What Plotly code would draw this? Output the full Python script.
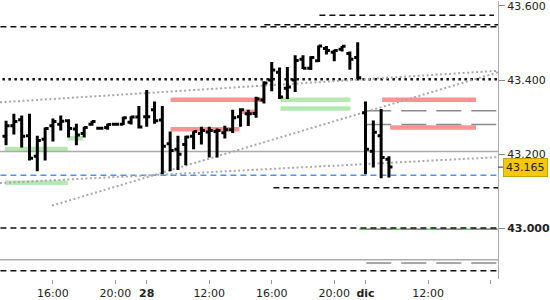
import pandas as pd
import plotly.graph_objects as go

# ---------------- data ----------------
times = (list(pd.date_range("2025-11-27 13:00", "2025-11-27 21:30", freq="30min")) +
         list(pd.date_range("2025-11-28 08:00", "2025-11-28 21:30", freq="30min")) +
         list(pd.date_range("2025-12-01 08:00", "2025-12-01 09:30", freq="30min")))

open_ = [43.248, 43.277, 43.293, 43.250, 43.194, 43.240, 43.277, 43.281, 43.290, 43.268, 43.256, 43.281, 43.270, 43.272, 43.281, 43.281, 43.286, 43.300,
         43.301, 43.320, 43.292, 43.228, 43.213, 43.226, 43.248, 43.256, 43.260, 43.261, 43.258, 43.266, 43.301, 43.309, 43.310, 43.346, 43.400, 43.421,
         43.378, 43.400, 43.456, 43.432, 43.452, 43.485, 43.475, 43.483, 43.472, 43.461,
         43.312, 43.208, 43.250, 43.186]
high = [43.290, 43.309, 43.304, 43.309, 43.250, 43.272, 43.296, 43.304, 43.294, 43.282, 43.274, 43.290, 43.274, 43.282, 43.283, 43.301, 43.302, 43.330,
        43.373, 43.342, 43.330, 43.261, 43.250, 43.250, 43.262, 43.274, 43.274, 43.269, 43.277, 43.320, 43.324, 43.320, 43.355, 43.397, 43.449, 43.434,
        43.435, 43.467, 43.467, 43.464, 43.493, 43.492, 43.482, 43.492, 43.477, 43.502,
        43.342, 43.291, 43.322, 43.194]
low = [43.224, 43.253, 43.218, 43.183, 43.154, 43.183, 43.234, 43.264, 43.245, 43.224, 43.245, 43.277, 43.268, 43.266, 43.278, 43.279, 43.280, 43.269,
       43.274, 43.282, 43.146, 43.154, 43.157, 43.170, 43.213, 43.226, 43.191, 43.191, 43.242, 43.257, 43.274, 43.276, 43.298, 43.337, 43.370, 43.349,
       43.349, 43.368, 43.430, 43.427, 43.449, 43.469, 43.451, 43.477, 43.428, 43.404,
       43.146, 43.164, 43.135, 43.137]
close = [43.277, 43.288, 43.248, 43.189, 43.237, 43.269, 43.288, 43.289, 43.269, 43.252, 43.272, 43.288, 43.270, 43.280, 43.281, 43.298, 43.300, 43.273,
         43.301, 43.290, 43.221, 43.210, 43.200, 43.246, 43.261, 43.264, 43.264, 43.264, 43.266, 43.298, 43.320, 43.309, 43.349, 43.392, 43.427, 43.354,
         43.381, 43.453, 43.432, 43.461, 43.492, 43.480, 43.480, 43.491, 43.456, 43.406,
         43.213, 43.259, 43.191, 43.165]

last_price = 43.165

# trading sessions (08:00-22:00), mapped to a continuous "trading hours" scale
sessions = [pd.Timestamp("2025-11-27").date(), pd.Timestamp("2025-11-28").date(), pd.Timestamp("2025-12-01").date()]
SESSION_HOURS = 14


def trading_hours(ts):
    return sessions.index(ts.date()) * SESSION_HOURS + ts.hour + ts.minute / 60 - 8


x = [trading_hours(t) for t in times]

# x tick labels (trading-hour positions)
tick_pos = [8, 12, 14, 18, 22, 26, 28, 32, 36]
tick_txt = ["16:00", "20:00", "<b>28</b>", "12:00", "16:00", "20:00", "<b>dic</b>", "12:00", ""]

# y tick labels
y_ticks = [43.0, 43.2, 43.4, 43.6]
y_ticktxt = ["<b>43.000</b>", "43.200", "43.400", "43.600"]

# horizontal levels: (value, start, end) in trading hours
black_dashed = [(43.544, 4.0, 37.0), (43.549, 21.53, 37.0), (43.575, 25.05, 36.22),
                (43.109, 22.11, 37.0), (43.001, 4.0, 37.0), (42.885, 4.0, 37.0)]
black_dotted = [(43.402, 4.0, 37.0)]
gray_solid = [(43.207, 4.0, 37.0), (42.915, 4.0, 37.0)]
gray_longdash = [(43.317, 28.05, 37.0), (43.280, 28.05, 37.0), (42.997, 28.05, 37.0), (42.906, 28.05, 37.0)]
green_thin = [(42.997, 27.60, 37.0)]
blue_dashed = [(43.143, 4.0, 37.0)]
red_zones = [(43.347, 15.53, 21.47), (43.267, 15.53, 19.94), (43.314, 20.00, 21.02),
             (43.347, 29.07, 35.07), (43.272, 29.58, 35.07)]
green_zones = [(43.214, 4.93, 8.95), (43.123, 4.93, 8.95), (43.243, 8.95, 9.91),
               (43.347, 22.56, 27.03), (43.323, 22.56, 27.03)]
# trend lines: (t0, v0, t1, v1)
trend_lines = [(4.613, 43.340, 36.478, 43.425),
               (7.934, 43.061, 36.478, 43.421),
               (4.613, 43.122, 36.478, 43.192)]

# ---------------- figure ----------------
fig = go.Figure()
fig.add_trace(go.Ohlc(
    x=x, open=open_, high=high, low=low, close=close,
    increasing=dict(line=dict(color="black", width=3)),
    decreasing=dict(line=dict(color="black", width=3)),
    tickwidth=0.45, hoverinfo="skip", showlegend=False,
))

shapes = []


def hline(v, x0, x1, color, width, dash="solid", layer="below"):
    shapes.append(dict(type="line", xref="x", yref="y", x0=x0, x1=x1, y0=v, y1=v,
                       line=dict(color=color, width=width, dash=dash), layer=layer))


for v, a, b in red_zones:
    hline(v, a, b, "#ff9393", 4.5)
for v, a, b in green_zones:
    hline(v, a, b, "#b6e8b2", 4.5)
for v, a, b in gray_solid:
    hline(v, a, b, "#ababab", 1.5)
for v, a, b in green_thin:
    hline(v, a, b, "#6cc06c", 1.5)
for v, a, b in gray_longdash:
    hline(v, a, b, "#8a8a8a", 1.5, "25px,10px")
for v, a, b in black_dashed:
    hline(v, a, b, "#111111", 1.5, "6px,4px")
for v, a, b in black_dotted:
    hline(v, a, b, "#111111", 2.5, "2.5px,3.5px")
for v, a, b in blue_dashed:
    hline(v, a, b, "#4d8ff5", 1.5, "6px,4px")
for t0, v0, t1, v1 in trend_lines:
    shapes.append(dict(type="line", xref="x", yref="y", x0=t0, x1=t1, y0=v0, y1=v1,
                       line=dict(color="#a8a8a8", width=2, dash="2px,2.5px"), layer="below"))

# small tick for the last price on the axis
shapes.append(dict(type="line", xref="paper", yref="y", x0=1.0, x1=1.0 + 5 / 499, y0=last_price, y1=last_price,
                   line=dict(color="#333333", width=1), layer="above"))

fig.update_layout(
    width=550, height=300,
    margin=dict(l=0, r=51, t=0, b=19),
    paper_bgcolor="white", plot_bgcolor="white",
    font=dict(family="DejaVu Sans", size=11, color="#222222"),
    shapes=shapes,
    showlegend=False,
    xaxis=dict(range=[4.613, 36.478], tickmode="array", tickvals=tick_pos, ticktext=tick_txt,
               showgrid=False, zeroline=False, showline=False, ticks="outside", ticklen=4,
               tickcolor="#999999", tickfont=dict(family="DejaVu Sans", size=11, color="#222222"),
               rangeslider=dict(visible=False), fixedrange=True),
    yaxis=dict(range=[42.863, 43.6134], side="right", tickmode="array", tickvals=y_ticks,
               ticktext=y_ticktxt, showgrid=False, zeroline=False, showline=True, linecolor="#aaaaaa",
               linewidth=1, ticks="outside", ticklen=6, tickcolor="#888888", ticklabeloverflow="allow",
               tickfont=dict(family="DejaVu Sans", size=11, color="#222222"), fixedrange=True),
    annotations=[dict(xref="paper", yref="y", x=1.0, y=last_price, xanchor="left", yanchor="middle",
                      xshift=5, text="43.165", showarrow=False,
                      font=dict(family="DejaVu Sans", size=11, color="#222222"),
                      bgcolor="#f8c70a", bordercolor="#c9a100", borderwidth=1, borderpad=2)],
)

fig.write_html("out.html")
